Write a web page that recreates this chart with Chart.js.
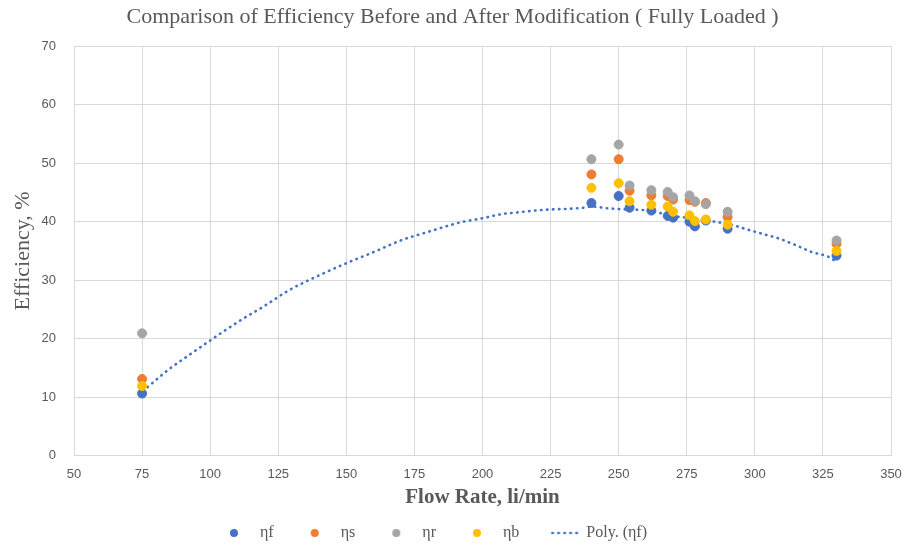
<!DOCTYPE html>
<html>
<head>
<meta charset="utf-8">
<script src="https://cdn.jsdelivr.net/npm/chart.js@4"></script>
<style>
  html, body { margin:0; padding:0; background:#fff; }
  #wrap { width:905px; height:548px; }
</style>
</head>
<body>
<div id="wrap"><canvas id="c" width="905" height="548"></canvas></div>
<script>
'use strict';
// ── Data ──────────────────────────────────────────────────
const FLOW  = [75, 240, 250, 254, 262, 268, 270, 276, 278, 282, 290, 330];
const ETA_F = [10.6, 43.2, 44.4, 42.4, 41.9, 41.0, 40.7, 40.0, 39.2, 40.2, 38.8, 34.2];
const ETA_S = [13.1, 48.1, 50.7, 45.3, 44.5, 44.4, 43.8, 43.7, 43.4, 43.2, 40.8, 36.2];
const ETA_R = [20.9, 50.7, 53.2, 46.2, 45.4, 45.1, 44.2, 44.5, 43.5, 43.0, 41.7, 36.8];
const ETA_B = [11.9, 45.8, 46.6, 43.5, 42.9, 42.6, 41.7, 41.1, 40.1, 40.4, 39.5, 35.0];

// Poly. (ηf) trendline
const TREND_X = [77, 85, 92, 101, 110, 120, 129, 139, 150, 160, 170, 181, 192, 200, 207, 213, 219, 225,
                 231, 237, 240, 246, 253, 259, 265, 271, 277, 284, 292, 297, 303, 309, 315, 321, 327, 330];
const TREND_Y = [11.7, 14.8, 17.1, 20.0, 22.8, 25.6, 28.3, 30.6, 32.9, 34.8, 36.8, 38.4, 39.9, 40.6, 41.3, 41.6, 41.9, 42.1,
                 42.2, 42.4, 42.6, 42.3, 42.1, 42.0, 41.5, 40.9, 40.6, 40.1, 39.4, 38.7, 37.9, 37.1, 36.0, 34.8, 34.0, 33.1];

const X_TICKS = [50, 75, 100, 125, 150, 175, 200, 225, 250, 275, 300, 325, 350];
const Y_TICKS = [0, 10, 20, 30, 40, 50, 60, 70];

const LABELS = ['ηf', 'ηs', 'ηr', 'ηb', 'Poly. (ηf)'];
const COLORS = ['#4472C4', '#ED7D31', '#A5A5A5', '#FFC000', '#4472C4'];

// ── Utils ─────────────────────────────────────────────────
const pts = (xs, ys) => xs.map((x, i) => ({ x, y: ys[i] }));
const TXT = '#595959';
const GRID = '#d9d9d9';
const SERIF = '"Liberation Serif", "DejaVu Serif", serif';
const SANS = '"Liberation Sans", Arial, sans-serif';

function dotIcon(color) {
  const c = document.createElement('canvas');
  c.width = 10; c.height = 10;
  const g = c.getContext('2d');
  g.fillStyle = color;
  g.beginPath(); g.arc(5, 5, 4, 0, Math.PI * 2); g.fill();
  return c;
}

// dotted line sitting to the right of the box centre, so the text follows it closely
function dottedIcon(color) {
  const c = document.createElement('canvas');
  c.width = 46; c.height = 6;
  const g = c.getContext('2d');
  g.strokeStyle = color; g.lineWidth = 2.6; g.lineCap = 'round';
  g.setLineDash([0.5, 5.5]);
  g.beginPath(); g.moveTo(15, 3); g.lineTo(45, 3); g.stroke();
  return c;
}

const ICONS = [dotIcon(COLORS[0]), dotIcon(COLORS[1]), dotIcon(COLORS[2]), dotIcon(COLORS[3]), dottedIcon(COLORS[4])];

function scatterSet(i, ys, order) {
  return {
    type: 'scatter', label: LABELS[i], data: pts(FLOW, ys), order,
    backgroundColor: COLORS[i], borderColor: COLORS[i], borderWidth: 1,
    pointRadius: 4.5, pointHoverRadius: 4.5,
  };
}

// legend sits a little left of centre in the original, the title is centred on the full width
const nudge = {
  id: 'nudge',
  afterLayout(chart) {
    chart.legend.left -= 14; chart.legend.right -= 14;
    chart.titleBlock.left += 7; chart.titleBlock.right += 7;
  },
};

// ── Chart ─────────────────────────────────────────────────
new Chart(document.getElementById('c').getContext('2d'), {
  type: 'scatter',
  plugins: [nudge],
  data: {
    datasets: [
      scatterSet(0, ETA_F, 4),
      scatterSet(1, ETA_S, 3),
      scatterSet(2, ETA_R, 2),
      scatterSet(3, ETA_B, 1),
      {
        type: 'line', label: LABELS[4], data: pts(TREND_X, TREND_Y), order: 5,
        borderColor: COLORS[4], borderWidth: 2.6, borderDash: [0.5, 5.5], borderCapStyle: 'round',
        pointRadius: 0, fill: false, tension: 0.4, cubicInterpolationMode: 'monotone',
      },
    ],
  },
  options: {
    responsive: false, animation: false,
    layout: { padding: { left: 0, right: 14, top: 0, bottom: 0 } },
    plugins: {
      tooltip: { enabled: false },
      title: {
        display: true,
        text: 'Comparison of Efficiency Before and After Modification ( Fully Loaded )',
        color: TXT, font: { family: SERIF, size: 22, weight: 'normal' },
        padding: { top: 4, bottom: 16 },
      },
      legend: {
        position: 'bottom', maxHeight: 46,
        labels: {
          color: TXT, font: { family: SERIF, size: 16 },
          usePointStyle: true, pointStyleWidth: 36, boxHeight: 10, padding: 23,
          generateLabels: chart => chart.data.datasets.map((ds, i) => ({
            text: ds.label, fontColor: TXT, pointStyle: ICONS[i], datasetIndex: i,
            fillStyle: COLORS[i], strokeStyle: COLORS[i], lineWidth: 0, hidden: false,
          })),
        },
      },
    },
    scales: {
      x: {
        type: 'linear', min: 50, max: 350,
        afterBuildTicks: s => { s.ticks = X_TICKS.map(v => ({ value: v })); },
        afterFit: s => { s.height = 46.5; s.paddingLeft = 0; s.paddingRight = 0; },
        grid: { color: GRID, drawTicks: false },
        border: { color: GRID },
        ticks: { color: TXT, font: { family: SANS, size: 13 }, padding: 11, maxRotation: 0 },
        title: { display: true, text: 'Flow Rate, li/min', color: TXT,
                 font: { family: SERIF, size: 21, weight: 'bold' }, padding: { top: 0, bottom: -8.6 } },
      },
      y: {
        type: 'linear', min: 0, max: 70,
        afterBuildTicks: s => { s.ticks = Y_TICKS.map(v => ({ value: v })); },
        afterFit: s => { s.width = 74; },
        grid: { color: GRID, drawTicks: false },
        border: { color: GRID },
        ticks: { color: TXT, font: { family: SANS, size: 13 }, padding: 18 },
        title: { display: true, text: 'Efficiency, %', color: TXT,
                 font: { family: SERIF, size: 22, weight: 'normal' }, padding: { top: 10, bottom: 0 } },
      },
    },
  },
});
</script>
</body>
</html>
